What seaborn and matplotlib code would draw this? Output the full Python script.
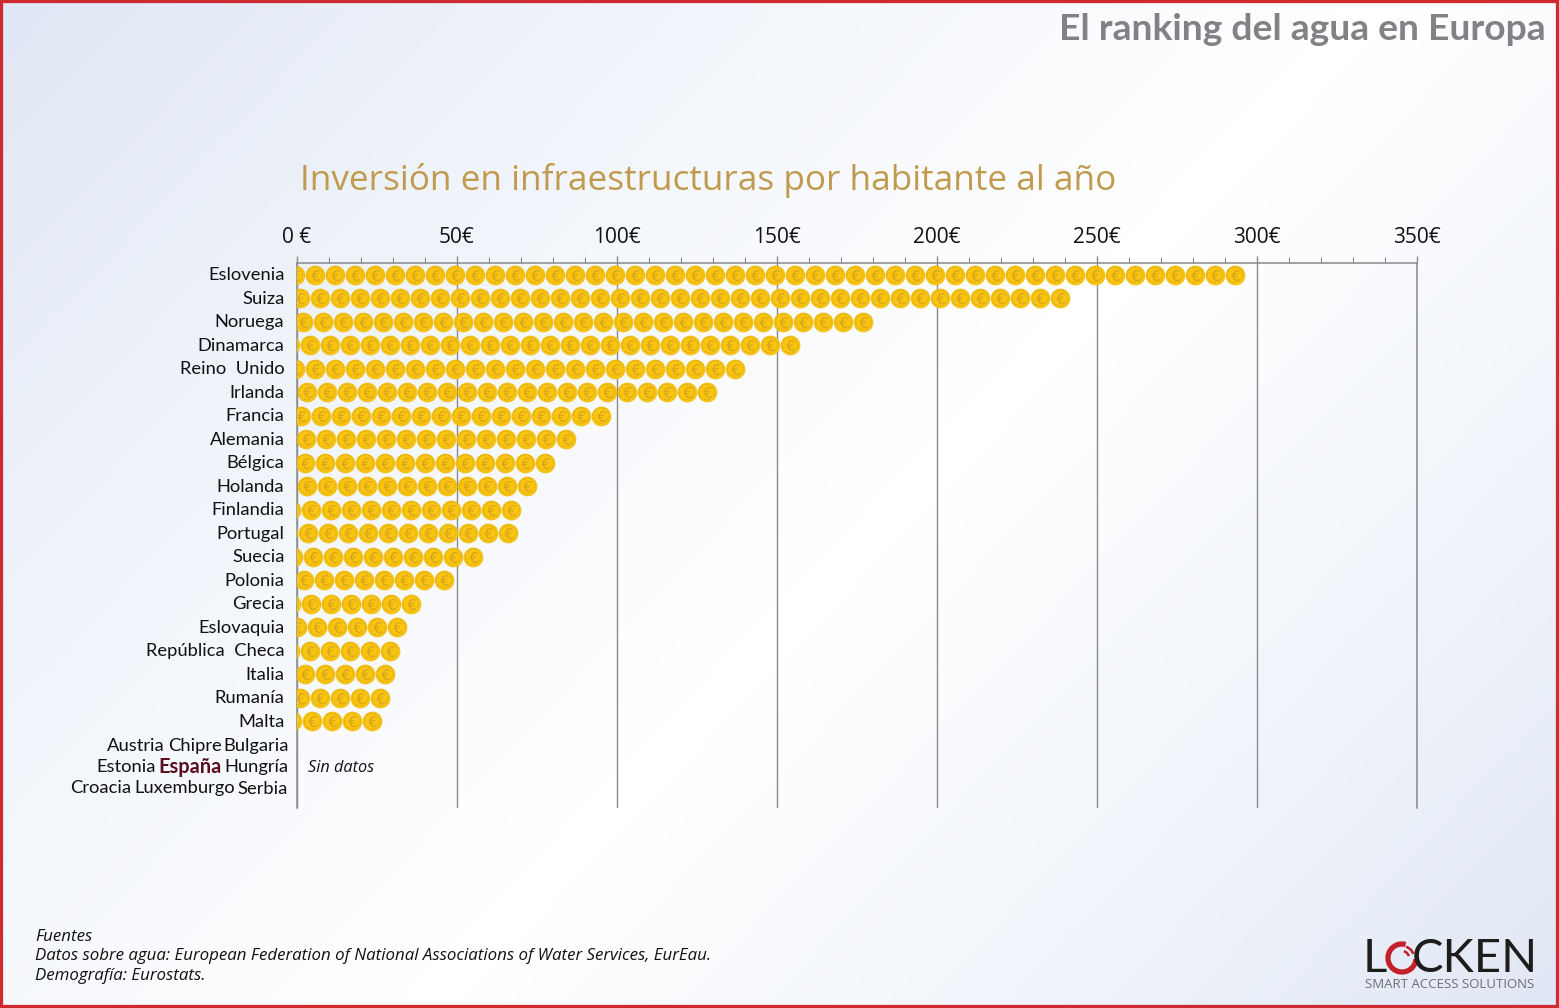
import matplotlib
matplotlib.use("Agg")
import matplotlib.pyplot as plt
from matplotlib.colors import LinearSegmentedColormap
from matplotlib.patches import Arc, Rectangle
from matplotlib.transforms import ScaledTranslation
import numpy as np
import pandas as pd
import seaborn as sns

# data
countries = ["Eslovenia", "Suiza", "Noruega", "Dinamarca", "Reino  Unido", "Irlanda",
             "Francia", "Alemania", "Bélgica", "Holanda", "Finlandia", "Portugal",
             "Suecia", "Polonia", "Grecia", "Eslovaquia", "República  Checa", "Italia",
             "Rumanía", "Malta"]
values = [296, 241.5, 180, 157, 140, 131, 98, 87, 80.6, 75, 70, 69, 58, 49, 38.5,
          34.4, 32, 30.6, 29, 26.5]
xticks = [0, 50, 100, 150, 200, 250, 300, 350]
xtick_labels = ["0 €", "50€", "100€", "150€", "200€", "250€", "300€", "350€"]
sin_datos_1 = ["Austria", "Chipre", "Bulgaria"]
sin_datos_2 = ["Estonia", "España", "Hungría"]
sin_datos_3 = ["Croacia", "Luxemburgo", "Serbia"]

COIN_STEP = 6.25  # one coin
COIN_R = 3.0

# one row per coin, counted back from the end of each bar
rows = []
for name, val in zip(countries, values):
    for c in np.arange(val - COIN_R, -COIN_R, -COIN_STEP):
        rows.append({"country": name, "x": c})
coins = pd.DataFrame(rows)

W, H = 1559, 1008
sns.set_style("white")
plt.rcParams["font.family"] = ["Open Sans", "DejaVu Sans"]

fig = plt.figure(figsize=(W / 100, H / 100), dpi=100)

# background gradient
bg = fig.add_axes([0, 0, 1, 1], zorder=0)
xx, yy = np.meshgrid(np.linspace(0, 1, 300), np.linspace(0, 1, 200))
d = np.abs(xx * 0.62 + yy * 0.38 - 0.55) * 2
d = np.where(xx * 0.62 + yy * 0.38 < 0.55, d * 0.9, d * 1.1)
cmap = LinearSegmentedColormap.from_list("bg", ["#ffffff", "#f1f5fb", "#e1e8f5"])
bg.imshow(d, cmap=cmap, vmin=0.02, vmax=0.98, aspect="auto", interpolation="bilinear")
bg.axis("off")

# main chart, same pixels as the original
ax = fig.add_axes([297 / W, 1 - 808 / H, 1120 / W, 545 / H], zorder=1)
ax.patch.set_alpha(0)

sns.scatterplot(data=coins, x="x", y="country", ax=ax, s=187, color="#f9c510",
                edgecolor="#f0b90a", linewidth=0.5, zorder=3, legend=False)
sns.scatterplot(data=coins, x="x", y="country", ax=ax, s=125, facecolor="none",
                edgecolor="#c99a14", linewidth=0.7, linestyle=":", zorder=4, legend=False)
sns.scatterplot(data=coins, x="x", y="country", ax=ax, s=60, marker="$€$", color="#d6a21c",
                linewidth=0, zorder=5, legend=False)

ax.set_xlim(0, 350)
ax.set_ylim(22.7, -0.49)
ax.set_xlabel("")
ax.set_ylabel("")

ax.xaxis.tick_top()
ax.set_xticks(xticks)
ax.set_xticklabels(xtick_labels, fontsize=15, color="#111111")
ax.set_xticks(np.arange(0, 351, 10), minor=True)
ax.tick_params(axis="x", which="major", length=5, width=1, color="#8a8a8a", pad=5.5)
ax.tick_params(axis="x", which="minor", length=4.5, width=0.8, color="#8a8a8a", top=True)
ax.tick_params(axis="y", length=0, pad=9)
up = ScaledTranslation(0, 1 / 100, fig.dpi_scale_trans)
for lab in ax.get_yticklabels():
    lab.set_family("Lato")
    lab.set_fontsize(13.2)
    lab.set_color("#111111")
    lab.set_transform(lab.get_transform() + up)
ax.grid(axis="x", which="major", color="#8a8a8a", lw=1, zorder=1)
ax.set_axisbelow(True)
ax.spines["bottom"].set_visible(False)
for side in ["top", "left", "right"]:
    ax.spines[side].set_color("#8a8a8a")
    ax.spines[side].set_linewidth(1.1)

# everything else is placed in pixels on a top layer
ov = fig.add_axes([0, 0, 1, 1], zorder=2)
ov.set_xlim(0, W)
ov.set_ylim(H, 0)
ov.axis("off")

ov.text(1546, 29, "El ranking del agua en Europa", ha="right", va="center",
        family="Lato", weight="bold", fontsize=26.8, color="#808285")
ov.text(300, 181, "Inversión en infraestructuras por habitante al año", ha="left", va="center",
        fontsize=25.3, color="#c09a4e")

# countries without data
for names, xs, ys in [(sin_datos_1, [107, 168, 223], [746, 746, 746]),
                      (sin_datos_2, [96, 158, 224], [767, 767, 767]),
                      (sin_datos_3, [70, 134, 237], [788, 788, 789])]:
    for n, x0, y in zip(names, xs, ys):
        if n == "España":
            ov.text(x0, y, n, family="Lato", weight="bold", fontsize=14.4, color="#5a0f1e",
                    ha="left", va="center")
        else:
            ov.text(x0, y, n, family="Lato", fontsize=13.2, color="#111111", ha="left", va="center")
ov.text(308, 768, "Sin datos", style="italic", fontsize=11.7, color="#111111", va="center")

# sources
for y, s in [(937, "Fuentes"),
             (956, "Datos sobre agua: European Federation of National Associations of Water Services, EurEau."),
             (976, "Demografía: Eurostats.")]:
    ov.text(35, y, s, style="italic", fontsize=12.15, color="#111111", va="center")

# logo
ov.text(1363, 959, "L", family="Lato", fontsize=34, color="#1d1d1b", va="center", ha="left")
ov.text(1538, 959, "CKEN", family="Lato", fontsize=34, color="#1d1d1b", va="center", ha="right")
ov.add_patch(Arc((1402, 958), 28, 28, theta1=5, theta2=285, color="#c4202a", lw=3.8))
ov.add_patch(Arc((1402, 958), 14, 14, theta1=-75, theta2=-15, color="#c4202a", lw=1.8))
ov.add_patch(Arc((1402, 958), 24, 24, theta1=-70, theta2=-20, color="#c4202a", lw=1.8))
ov.text(1365, 985, "SMART ACCESS SOLUTIONS", fontsize=9.5, color="#6d6e71", va="center", ha="left")

# red frame
fig.add_artist(Rectangle((0, 0), 1, 1, transform=fig.transFigure, fill=False,
                         edgecolor="#cf2a30", linewidth=4.5, zorder=10))

fig.savefig("out.png", dpi=100)
